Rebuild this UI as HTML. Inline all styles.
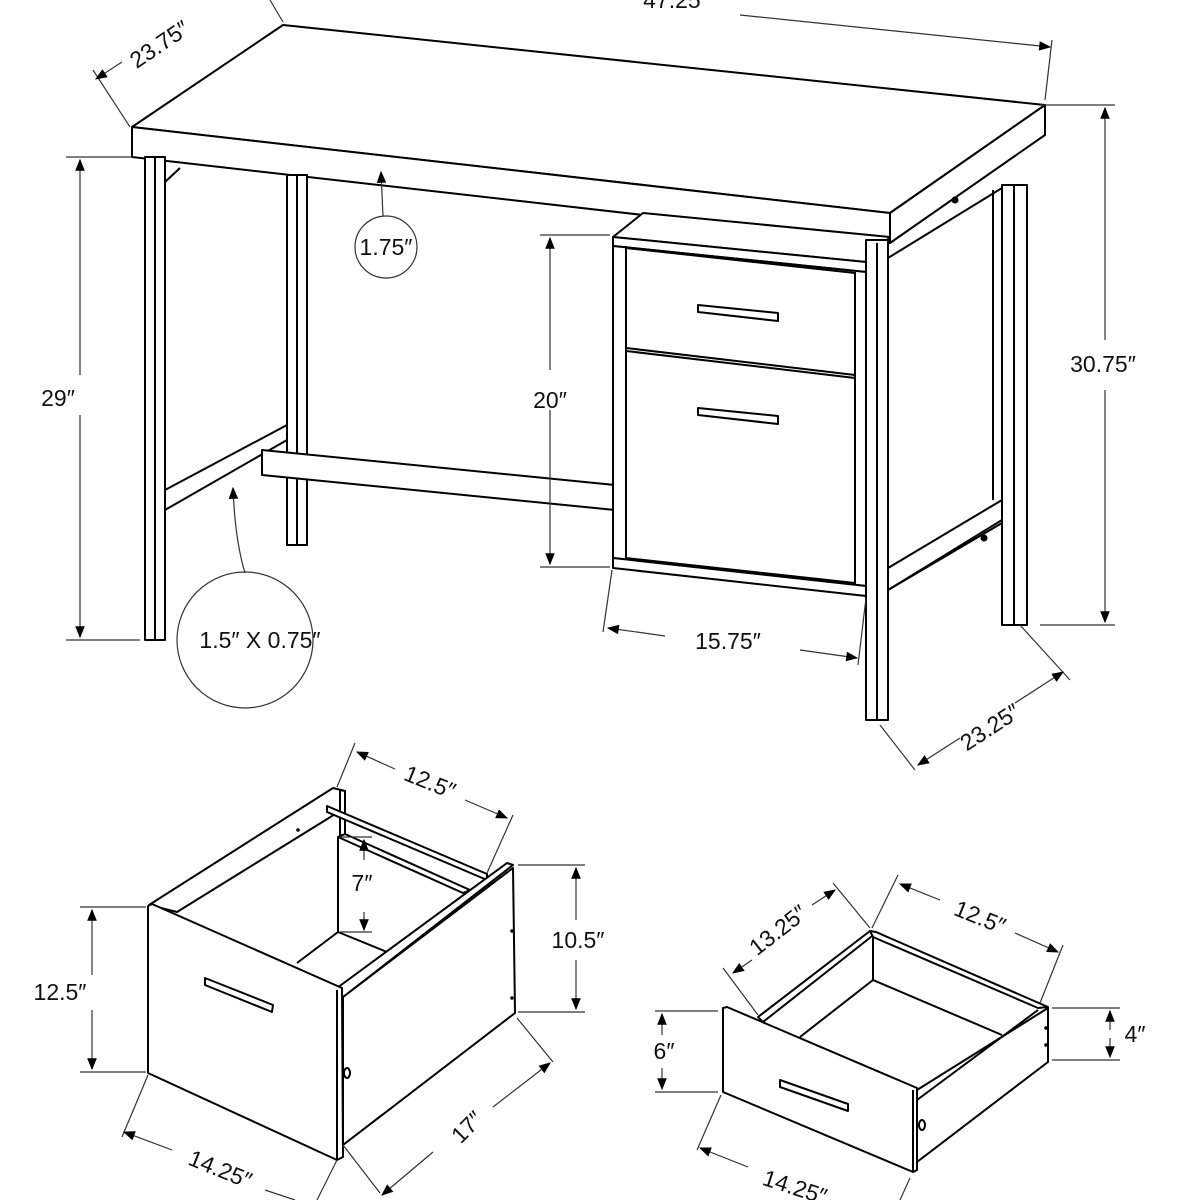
<!DOCTYPE html>
<html><head><meta charset="utf-8"><style>
html,body{margin:0;padding:0;background:#fff}
svg{display:block}
text{font-family:"Liberation Sans",sans-serif;font-size:23px;fill:#111;text-anchor:middle}
</style></head><body>
<svg width="1200" height="1200" viewBox="0 0 1200 1200" xmlns="http://www.w3.org/2000/svg">
<defs>
<marker id="a" viewBox="0 0 10 10" refX="9" refY="5" markerWidth="16" markerHeight="12" orient="auto-start-reverse" markerUnits="userSpaceOnUse"><path d="M0,1 L10,5 L0,9 z" fill="#000"/></marker>
</defs>
<g fill="#fff" stroke="#000" stroke-width="2" stroke-linejoin="round">
<path d="M132,127 L283,25 L1045,105 L890,213 Z"/>
<path d="M132,127 L890,213 L890,243 L132,157 Z"/>
<path d="M890,213 L1045,105 L1045,135 L890,243 Z"/>
<rect x="287" y="175" width="20" height="370"/>
<line x1="297" y1="175" x2="297" y2="545"/>
<path d="M165,490 L287,425 L287,440 L165,510 Z"/>
<path d="M165,182 L180,168" fill="none"/>
<path d="M262,450 L615,485 L615,510 L262,475 Z"/>
<rect x="145" y="157" width="20" height="483"/>
<line x1="155" y1="157" x2="155" y2="640"/>
<rect x="1002" y="185" width="25" height="440"/>
<line x1="1014" y1="185" x2="1014" y2="625"/>
<path d="M888,568 L1002,500 L1002,520 L888,590 Z"/>
<path d="M888,590 L1002,523 M888,258 L1002,188 M993,190 L993,500" fill="none"/>
<path d="M613,237 L643,213 L890,237 L866,262 Z"/>
<path d="M613,237 L866,262 L866,272 L613,246 Z"/>
<path d="M613,246 L613,558 L866,586 L866,272 Z"/>
<path d="M613,558 L866,586 L866,596 L613,568 Z"/>
<line x1="626" y1="246" x2="626" y2="558"/>
<line x1="855" y1="272" x2="855" y2="585"/>
<path d="M626,248 L855,273 L855,375 L626,348 Z"/>
<path d="M626,351 L855,378 L855,583 L626,558 Z"/>
<rect x="866" y="240" width="22" height="480"/>
<line x1="877" y1="243" x2="877" y2="720"/>
<path d="M698,305 L778,313 L778,321 L698,312 Z"/>
<path d="M698,408 L778,416 L778,424 L698,415 Z"/>
</g>
<circle cx="955" cy="200" r="3.5" fill="#000"/>
<circle cx="984" cy="538" r="3.5" fill="#000"/>
<g stroke="#333" stroke-width="1.2" fill="none">
<line x1="283" y1="22" x2="270" y2="0"/>
<line x1="130" y1="127" x2="93" y2="70"/>
<line x1="122" y1="62" x2="96" y2="79" marker-end="url(#a)"/>
<line x1="1045" y1="100" x2="1052" y2="40"/>
<line x1="740" y1="15" x2="1050" y2="47" marker-end="url(#a)"/>
<line x1="1040" y1="105" x2="1115" y2="105"/>
<line x1="1040" y1="625" x2="1115" y2="625"/>
<line x1="1105" y1="108" x2="1105" y2="340" marker-start="url(#a)"/>
<line x1="1105" y1="390" x2="1105" y2="622" marker-end="url(#a)"/>
<line x1="66" y1="157" x2="132" y2="157"/>
<line x1="66" y1="640" x2="140" y2="640"/>
<line x1="80" y1="160" x2="80" y2="375" marker-start="url(#a)"/>
<line x1="80" y1="415" x2="80" y2="637" marker-end="url(#a)"/>
<line x1="540" y1="235" x2="610" y2="235"/>
<line x1="540" y1="567" x2="610" y2="567"/>
<line x1="550" y1="238" x2="550" y2="370" marker-start="url(#a)"/>
<line x1="550" y1="410" x2="550" y2="564" marker-end="url(#a)"/>
<line x1="612" y1="570" x2="603" y2="632"/>
<line x1="866" y1="598" x2="858" y2="665"/>
<line x1="608" y1="628" x2="665" y2="636" marker-start="url(#a)"/>
<line x1="800" y1="650" x2="857" y2="658" marker-end="url(#a)"/>
<line x1="1020" y1="625" x2="1070" y2="680"/>
<line x1="880" y1="725" x2="915" y2="770"/>
<line x1="918" y1="765" x2="960" y2="738" marker-start="url(#a)"/>
<line x1="1015" y1="703" x2="1063" y2="672" marker-end="url(#a)"/>
<line x1="383" y1="216" x2="381" y2="172" marker-end="url(#a)"/>
<circle cx="386" cy="247" r="31"/>
<path d="M233,488 Q235,540 245,573" marker-start="url(#a)"/>
<circle cx="245" cy="640" r="68"/>
</g>
<text x="160" y="52" transform="rotate(-34 160 45)">23.75″</text>
<text x="676" y="8">47.25″</text>
<text x="1103" y="372">30.75″</text>
<text x="58" y="406">29″</text>
<text x="550" y="408">20″</text>
<text x="386" y="255">1.75″</text>
<text x="260" y="648">1.5″ X 0.75″</text>
<text x="728" y="649">15.75″</text>
<text x="990" y="735" transform="rotate(-33 990 727)">23.25″</text>

<g fill="#fff" stroke="#000" stroke-width="2" stroke-linejoin="round">
<path d="M149,905 L333,788 L345,791 L345,808 L177,912 Z"/>
<path d="M340,790 L345,791 L345,835 L340,835 Z"/>
<path d="M327,806 L487,874 L487,880 L327,812 Z"/>
<path d="M338,837 L345,834 L470,890 L463,893 Z"/>
<path d="M338,837 L338,932"/>
<path d="M338,932 L387,952 M338,932 L297,963" fill="none"/>
<path d="M343,997 L513,868 L515,1013 L343,1145 Z"/>
<path d="M337,988 L507,863 L513,865 L343,997 Z"/>
<path d="M148,906 L152,904 L342,988 L343,1157 L337,1160 L148,1073 Z"/>
<line x1="337" y1="990" x2="337" y2="1160"/>
<path d="M205,978 L273,1005 L272,1012 L205,985 Z"/>
<ellipse cx="347" cy="1073" rx="3" ry="5"/>
</g>
<circle cx="298" cy="830" r="1.8" fill="#000"/>
<circle cx="512" cy="931" r="1.8" fill="#000"/>
<circle cx="512" cy="998" r="1.8" fill="#000"/>
<g stroke="#333" stroke-width="1.2" fill="none">
<line x1="337" y1="787" x2="355" y2="743"/>
<line x1="487" y1="873" x2="513" y2="815"/>
<line x1="357" y1="752" x2="395" y2="769" marker-start="url(#a)"/>
<line x1="465" y1="800" x2="507" y2="818" marker-end="url(#a)"/>
<line x1="340" y1="837" x2="372" y2="837"/>
<line x1="340" y1="932" x2="372" y2="932"/>
<line x1="364" y1="860" x2="364" y2="840" marker-end="url(#a)"/>
<line x1="364" y1="912" x2="364" y2="930" marker-end="url(#a)"/>
<line x1="518" y1="865" x2="585" y2="865"/>
<line x1="518" y1="1012" x2="585" y2="1012"/>
<line x1="576" y1="868" x2="576" y2="920" marker-start="url(#a)"/>
<line x1="576" y1="960" x2="576" y2="1009" marker-end="url(#a)"/>
<line x1="80" y1="907" x2="146" y2="907"/>
<line x1="80" y1="1072" x2="146" y2="1072"/>
<line x1="92" y1="910" x2="92" y2="975" marker-start="url(#a)"/>
<line x1="92" y1="1010" x2="92" y2="1069" marker-end="url(#a)"/>
<line x1="148" y1="1075" x2="122" y2="1137"/>
<line x1="337" y1="1160" x2="317" y2="1200"/>
<line x1="124" y1="1132" x2="172" y2="1150" marker-start="url(#a)"/>
<line x1="265" y1="1190" x2="295" y2="1200"/>
<line x1="517" y1="1018" x2="553" y2="1062"/>
<line x1="343" y1="1145" x2="380" y2="1193"/>
<line x1="382" y1="1195" x2="433" y2="1152" marker-start="url(#a)"/>
<line x1="493" y1="1107" x2="550" y2="1063" marker-end="url(#a)"/>
</g>
<text x="430" y="790" transform="rotate(22 430 782)">12.5″</text>
<text x="362" y="891">7″</text>
<text x="578" y="948">10.5″</text>
<text x="60" y="1000">12.5″</text>
<text x="220" y="1177" transform="rotate(22 220 1170)">14.25″</text>
<text x="467" y="1135" transform="rotate(-45 467 1127)">17″</text>

<g fill="#fff" stroke="#000" stroke-width="2" stroke-linejoin="round">
<path d="M758,1017 L870,931 L876,933 L763,1022 Z"/>
<path d="M870,931 L876,932 L1048,1007 L1038,1008 L873,937 Z"/>
<path d="M873,937 L873,980"/>
<path d="M873,980 L1002,1035 M873,980 L800,1037" fill="none"/>
<path d="M917,1090 L1048,1008 L1048,1062 L917,1162 Z"/>
<path d="M917,1100 L1038,1010" fill="none"/>
<path d="M723,1008 L727,1007 L917,1088 L917,1170 L913,1172 L723,1092 Z"/>
<line x1="913" y1="1090" x2="913" y2="1172"/>
<path d="M780,1080 L848,1104 L848,1111 L780,1087 Z"/>
<ellipse cx="922" cy="1125" rx="3" ry="5"/>
</g>
<circle cx="1046" cy="1028" r="1.8" fill="#000"/>
<circle cx="1046" cy="1045" r="1.8" fill="#000"/>
<g stroke="#333" stroke-width="1.2" fill="none">
<line x1="758" y1="1015" x2="723" y2="968"/>
<line x1="733" y1="973" x2="752" y2="960" marker-start="url(#a)"/>
<line x1="812" y1="905" x2="835" y2="890" marker-end="url(#a)"/>
<line x1="870" y1="928" x2="833" y2="883"/>
<line x1="872" y1="928" x2="898" y2="875"/>
<line x1="1040" y1="1003" x2="1063" y2="945"/>
<line x1="900" y1="884" x2="940" y2="900" marker-start="url(#a)"/>
<line x1="1015" y1="933" x2="1058" y2="952" marker-end="url(#a)"/>
<line x1="655" y1="1011" x2="718" y2="1011"/>
<line x1="655" y1="1092" x2="718" y2="1092"/>
<line x1="662" y1="1014" x2="662" y2="1035" marker-start="url(#a)"/>
<line x1="662" y1="1068" x2="662" y2="1089" marker-end="url(#a)"/>
<line x1="1052" y1="1008" x2="1120" y2="1008"/>
<line x1="1052" y1="1060" x2="1120" y2="1060"/>
<line x1="1110" y1="1011" x2="1110" y2="1030" marker-start="url(#a)"/>
<line x1="1110" y1="1038" x2="1110" y2="1057" marker-end="url(#a)"/>
<line x1="721" y1="1095" x2="697" y2="1150"/>
<line x1="700" y1="1148" x2="748" y2="1167" marker-start="url(#a)"/>
<line x1="910" y1="1178" x2="900" y2="1200"/>
</g>
<text x="778" y="938" transform="rotate(-38 778 930)">13.25″</text>
<text x="980" y="925" transform="rotate(22 980 917)">12.5″</text>
<text x="664" y="1059">6″</text>
<text x="1135" y="1042">4″</text>
<text x="795" y="1195" transform="rotate(18 795 1187)">14.25″</text>
</svg>
</body></html>
